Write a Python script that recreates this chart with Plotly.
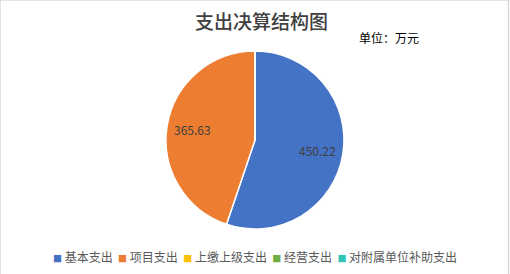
import math
import plotly.graph_objects as go

categories = ["基本支出", "项目支出", "上缴上级支出", "经营支出", "对附属单位补助支出"]
values = [450.22, 365.63, 0, 0, 0]
colors = ["#4472C4", "#ED7D31", "#FFC000", "#70AD47", "#2EC4B6"]
title_text = "支出决算结构图"
unit_text = "单位：万元"

W, H = 510, 274
FONT = "Noto Sans CJK SC, Microsoft YaHei, sans-serif"
CX, CY, R = 255, 140, 89  # pie centre / radius in px
LABEL_R = 0.71

fig = go.Figure()
fig.add_trace(go.Pie(
    labels=categories,
    values=values,
    marker=dict(colors=colors, line=dict(color="white", width=1.5)),
    sort=False,
    direction="clockwise",
    rotation=0,
    textinfo="none",
    domain=dict(x=[(CX - R) / W, (CX + R) / W], y=[(H - CY - R) / H, (H - CY + R) / H]),
    showlegend=False,
    hoverinfo="label+value+percent",
))

# data labels placed at each slice's mid-angle (clockwise from 12 o'clock)
annotations = []
total = sum(values)
cum = 0.0
for v in values:
    if v > 0:
        mid = (cum + v / 2) / total * 2 * math.pi
        px = CX + LABEL_R * R * math.sin(mid)
        py = CY - LABEL_R * R * math.cos(mid)
        annotations.append(dict(text=f"{v:.2f}", x=px / W, y=1 - py / H, xref="paper", yref="paper",
                                xanchor="center", yanchor="middle", showarrow=False,
                                font=dict(family=FONT, size=12, color="#404040")))
    cum += v

# custom legend line built from categories/colors
parts = []
for c, col in zip(categories, colors):
    parts.append(f"<span style='color:{col};font-size:9px'>■</span> {c}")
legend_text = "  ".join(parts)

annotations += [
    dict(text=title_text, x=261 / W, y=1 - 20 / H, xref="paper", yref="paper",
         xanchor="center", yanchor="middle", showarrow=False,
         font=dict(family=FONT, size=19, color="#404040", weight=500)),
    dict(text=unit_text, x=357 / W, y=1 - 37 / H, xref="paper", yref="paper",
         xanchor="left", yanchor="middle", showarrow=False,
         font=dict(family=FONT, size=12, color="#000000")),
    dict(text=legend_text, x=255 / W, y=1 - 256 / H, xref="paper", yref="paper",
         xanchor="center", yanchor="middle", showarrow=False,
         font=dict(family=FONT, size=12, color="#595959")),
]

fig.update_layout(
    width=W, height=H,
    margin=dict(l=0, r=0, t=0, b=0),
    paper_bgcolor="white",
    plot_bgcolor="white",
    annotations=annotations,
    shapes=[dict(type="rect", xref="paper", yref="paper", x0=0, y0=-0.01, x1=508.5 / W, y1=1,
                 line=dict(color="#D9D9D9", width=1.5), fillcolor="rgba(0,0,0,0)")],
)

fig.write_html("out.html")
